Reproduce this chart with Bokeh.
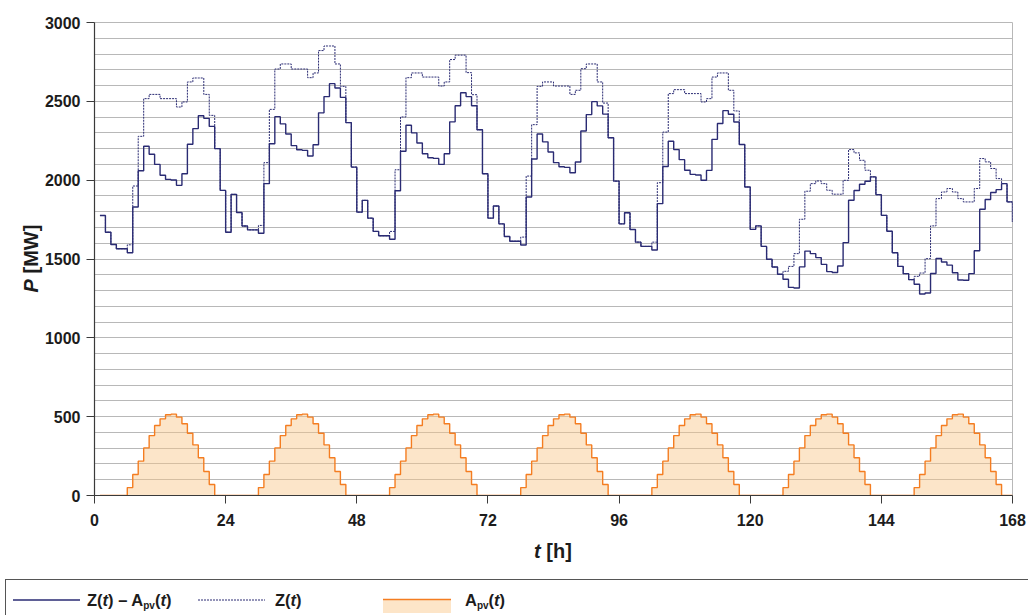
from bokeh.plotting import figure
from bokeh.layouts import column, row
from bokeh.models import Range1d, FixedTicker, ColumnDataSource, Div
from bokeh.embed import file_html
from bokeh.resources import INLINE

# ---------------------------------------------------------------- data
# hourly demand Z(t) in MW, one list per day (hours 1..24)
demand_day1 = [1776, 1670, 1592, 1565, 1565, 1590, 1963, 2278, 2517, 2544, 2544, 2517,
               2517, 2517, 2464, 2496, 2623, 2648, 2648, 2544, 2411, 2200, 1935, 1670]
demand_day2 = [1910, 1795, 1709, 1685, 1685, 1713, 2111, 2449, 2705, 2737, 2737, 2705,
               2705, 2705, 2650, 2680, 2822, 2851, 2851, 2737, 2595, 2365, 2083, 1797]
demand_day3 = [1872, 1759, 1675, 1647, 1647, 1675, 2066, 2401, 2650, 2680, 2680, 2654,
               2654, 2654, 2597, 2623, 2765, 2793, 2793, 2682, 2542, 2320, 2041, 1759]
demand_day4 = [1836, 1723, 1643, 1613, 1613, 1639, 2026, 2352, 2595, 2623, 2623, 2597,
               2597, 2597, 2544, 2570, 2707, 2737, 2737, 2623, 2489, 2269, 1994, 1723]
demand_day5 = [1793, 1687, 1607, 1580, 1580, 1607, 1984, 2305, 2549, 2574, 2574, 2549,
               2549, 2549, 2496, 2517, 2654, 2680, 2680, 2570, 2439, 2226, 1957, 1688]
demand_day6 = [1710, 1580, 1498, 1449, 1403, 1422, 1453, 1534, 1752, 1930, 1978, 1995,
               1978, 1936, 1911, 1911, 1999, 2194, 2173, 2126, 2063, 2021, 1908, 1777]
demand_day7 = [1676, 1540, 1453, 1407, 1369, 1390, 1411, 1502, 1710, 1883, 1925, 1947,
               1925, 1883, 1862, 1862, 1947, 2137, 2116, 2074, 2010, 1978, 1862, 1735]

# photovoltaic output A_pv(t) in MW by hour of day (0..23), same every day
pv_by_hour = [0, 0, 0, 0, 0, 0, 50, 133, 218, 302, 380, 444,
              486, 512, 516, 497, 455, 395, 321, 239, 152, 70, 0, 0]

hours = list(range(1, 169))
x_ticks = list(range(0, 169, 24))
y_ticks = list(range(0, 3001, 500))
grid_levels = list(range(0, 3001, 100))

demand = (demand_day1 + demand_day2 + demand_day3 + demand_day4 +
          demand_day5 + demand_day6 + demand_day7)
pv = [pv_by_hour[h % 24] for h in hours]
net = [z - a for z, a in zip(demand, pv)]

# ---------------------------------------------------------------- style
FONT = "Liberation Sans"
NAVY = "#2a2b73"
ORANGE = "#f47d21"
PV_FILL = "#f8c587"
PV_FILL_SOLID = "#fde5c8"
GRID = "#b8b8b8"
TEXT = "#1c1c1c"

W, H = 1028, 615
TITLE_W = 41          # strip left of the plot holding the y title
PLOT_H = 530          # plot canvas height; legend strip below it
FR_T, FR_B = 22, 495  # frame top / bottom inside the plot canvas
FR_L, FR_R = 94, 1012 # frame left / right edges in page pixels

# ---------------------------------------------------------------- main plot
p = figure(width=W - TITLE_W, height=PLOT_H,
           x_range=Range1d(0, 168), y_range=Range1d(0, 3000),
           output_backend="svg", toolbar_location=None,
           min_border_left=FR_L - TITLE_W, min_border_right=W - FR_R,
           min_border_top=FR_T, min_border_bottom=PLOT_H - FR_B)
p.background_fill_color = "white"
p.border_fill_alpha = 0
p.outline_line_color = GRID

src = ColumnDataSource(dict(t=hours, demand=demand, pv=pv, net=net, zero=[0] * len(hours)))

p.varea_step(x="t", y1="zero", y2="pv", step_mode="after", source=src,
             fill_color=PV_FILL, fill_alpha=0.45)
p.step(x="t", y="pv", mode="after", source=src, line_color=ORANGE, line_width=1.4)
p.step(x="t", y="demand", mode="after", source=src, line_color=NAVY,
       line_width=1.0, line_dash="2 1")
p.step(x="t", y="net", mode="after", source=src, line_color=NAVY, line_width=1.4)

p.xgrid.visible = False
p.ygrid.ticker = FixedTicker(ticks=grid_levels)
p.ygrid.grid_line_color = GRID
p.ygrid.grid_line_width = 1

p.xaxis.ticker = FixedTicker(ticks=x_ticks)
p.yaxis.ticker = FixedTicker(ticks=y_ticks)
for ax in (p.xaxis, p.yaxis):
    ax.axis_line_color = "#3a3a3a"
    ax.axis_line_width = 1.2
    ax.major_tick_line_color = "#3a3a3a"
    ax.major_tick_in = 0
    ax.major_tick_out = 8
    ax.minor_tick_in = 0
    ax.minor_tick_out = 0
    ax.major_label_text_font = FONT
    ax.major_label_text_font_style = "bold"
    ax.major_label_text_font_size = "16px"
    ax.major_label_text_color = TEXT
p.xaxis.major_label_standoff = 10
p.yaxis.major_label_standoff = 6

# ---------------------------------------------------------------- titles and legend
txt = f'font-family="{FONT}" font-weight="bold" fill="{TEXT}"'

y_title_svg = f"""
<svg xmlns="http://www.w3.org/2000/svg" width="{TITLE_W}" height="{PLOT_H}" style="display:block;overflow:visible">
  <text {txt} font-size="20" text-anchor="middle"
        transform="translate(38,{(FR_T + FR_B) / 2:.1f}) rotate(-90)"><tspan font-style="italic">P</tspan> [MW]</text>
</svg>"""

BOT_H = H - PLOT_H
row_y = 70      # legend sample lines
base_y = 76     # legend text baseline
leg_size = 16.5
sub_size = 10
sub_dy = 2.5


def sub_text(main):
    """Text with 'pv' as a subscript after the leading letter run."""
    return (f'{main}<tspan font-size="{sub_size}" dy="{sub_dy}">pv</tspan>'
            f'<tspan dy="{-sub_dy}">(</tspan><tspan font-style="italic">t</tspan>)')


bottom_svg = f"""
<svg xmlns="http://www.w3.org/2000/svg" width="{W}" height="{BOT_H}" style="display:block">
  <text {txt} font-size="20" x="{(FR_L + FR_R) / 2:.1f}" y="28" text-anchor="middle"><tspan font-style="italic">t</tspan> [h]</text>
  <rect x="5.5" y="49.5" width="{W + 20}" height="{BOT_H}" fill="none" stroke="#555555" stroke-width="1"/>
  <line x1="13" x2="80" y1="{row_y}" y2="{row_y}" stroke="{NAVY}" stroke-width="1.4"/>
  <text {txt} font-size="{leg_size}" x="87" y="{base_y}">Z(<tspan font-style="italic">t</tspan>) \u2013 {sub_text("A")}</text>
  <line x1="198" x2="265" y1="{row_y}" y2="{row_y}" stroke="{NAVY}" stroke-width="1" stroke-dasharray="2 1"/>
  <text {txt} font-size="{leg_size}" x="275" y="{base_y}">Z(<tspan font-style="italic">t</tspan>)</text>
  <rect x="383" y="{row_y - 0.5}" width="68" height="13.5" fill="{PV_FILL_SOLID}" stroke="none"/>
  <line x1="383" x2="451" y1="{row_y - 0.5}" y2="{row_y - 0.5}" stroke="{ORANGE}" stroke-width="1.4"/>
  <text {txt} font-size="{leg_size}" x="465" y="{base_y}">{sub_text("A")}</text>
</svg>"""

y_title = Div(text=y_title_svg, width=TITLE_W, height=PLOT_H, margin=(0, 0, 0, 0),
              styles={"overflow": "visible"})
bottom = Div(text=bottom_svg, width=W, height=BOT_H, margin=(0, 0, 0, 0))

layout = column(row(y_title, p, spacing=0), bottom, spacing=0)
open("out.html", "w").write(file_html(layout, INLINE))
